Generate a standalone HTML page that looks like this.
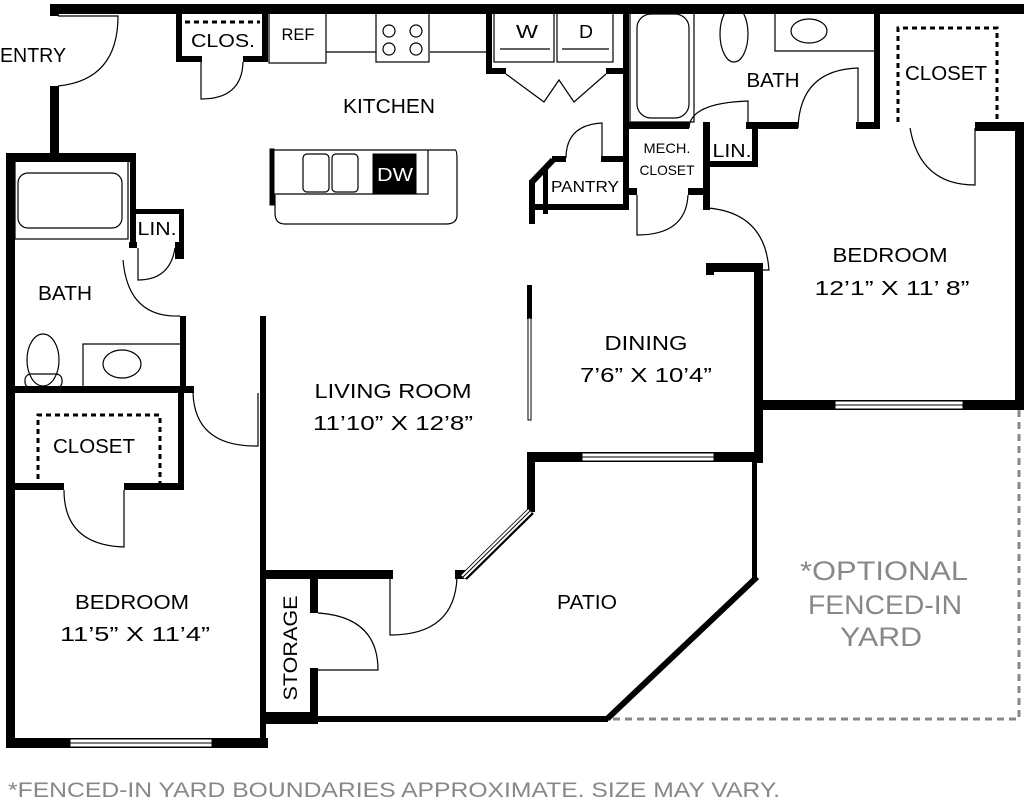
<!DOCTYPE html>
<html><head><meta charset="utf-8"><style>html,body{margin:0;padding:0;background:#fff}svg{display:block}</style></head>
<body>
<svg width="1024" height="808" viewBox="0 0 1024 808" xmlns="http://www.w3.org/2000/svg" font-family="'Liberation Sans', sans-serif">
<rect width="1024" height="808" fill="#fff"/>
<g fill="#000">
<rect x="50" y="4" width="974" height="10"/>
<rect x="50" y="4" width="9" height="12"/>
<rect x="50" y="86" width="9" height="72"/>
<rect x="6" y="153" width="130" height="9"/>
<rect x="6" y="153" width="9" height="593"/>
<rect x="130" y="153" width="6" height="95"/>
<rect x="130" y="209" width="54" height="5"/>
<rect x="179" y="209" width="5" height="50"/>
<rect x="129" y="242" width="8" height="6"/>
<rect x="175" y="242" width="8" height="17"/>
<rect x="180" y="316" width="6" height="75"/>
<rect x="6" y="386" width="188" height="7"/>
<rect x="178" y="388" width="6" height="100"/>
<rect x="6" y="483" width="58" height="7"/>
<rect x="124" y="483" width="60" height="7"/>
<rect x="260" y="316" width="6" height="432"/>
<rect x="6" y="738" width="262" height="10"/>
<rect x="263" y="570" width="130" height="9"/>
<rect x="310" y="575" width="8" height="38"/>
<rect x="310" y="668" width="8" height="55"/>
<rect x="263" y="712" width="55" height="12"/>
<rect x="263" y="716" width="345" height="6"/>
<rect x="176" y="10" width="6" height="52"/>
<rect x="176" y="56" width="26" height="6"/>
<rect x="243" y="56" width="24" height="6"/>
<rect x="262" y="10" width="6" height="52"/>
<rect x="486" y="10" width="6" height="62"/>
<rect x="486" y="68" width="20" height="6"/>
<rect x="606" y="68" width="22" height="6"/>
<rect x="623" y="10" width="6" height="198"/>
<!-- pantry -->
<rect x="552" y="156" width="14" height="6"/>
<rect x="601" y="156" width="25" height="6"/>
<rect x="529" y="180" width="6" height="44"/>
<rect x="543" y="167" width="5" height="47"/>
<rect x="529" y="204" width="100" height="6"/>
<!-- mech/bath -->
<rect x="623" y="122" width="66" height="7"/>
<rect x="746" y="122" width="52" height="7"/>
<rect x="856" y="122" width="24" height="7"/>
<rect x="874" y="8" width="6" height="120"/>
<rect x="975" y="122" width="49" height="9"/>
<rect x="623" y="188" width="14" height="7"/>
<rect x="688" y="188" width="20" height="7"/>
<rect x="703" y="122" width="7" height="88"/>
<rect x="703" y="161" width="54" height="6"/>
<rect x="752" y="122" width="6" height="45"/>
<rect x="1015" y="128" width="9" height="282"/>
<rect x="706" y="263" width="56" height="9"/>
<rect x="706" y="263" width="8" height="12"/>
<rect x="754" y="263" width="9" height="200"/>
<rect x="754" y="400" width="270" height="10"/>
<rect x="527" y="285" width="5" height="34"/>
<rect x="527" y="452" width="236" height="10"/>
<rect x="527" y="452" width="8" height="60"/>
<rect x="752" y="455" width="5" height="124"/>
<rect x="455" y="570" width="12" height="9"/>
</g>
<g fill="#fff" stroke="#000" stroke-width="1">
<rect x="70" y="739" width="142" height="8"/><line x1="70" y1="743" x2="212" y2="743"/>
<rect x="582" y="453" width="132" height="8"/><line x1="582" y1="457" x2="714" y2="457"/>
<rect x="835" y="401" width="128" height="8"/><line x1="835" y1="405" x2="963" y2="405"/>
<rect x="528" y="318" width="3" height="102"/>
</g>
<g fill="none" stroke="#000">
<path d="M531 511 L464 577" stroke-width="8"/>
<path d="M530 511 L463 577" stroke="#fff" stroke-width="5"/>
<path d="M530 511 L463 577" stroke-width="1"/>
<path d="M607 719 L757 577" stroke-width="6"/>
<path d="M532 182 L553 160" stroke-width="6"/>
<path d="M1019 410 V719 H612" stroke="#888" stroke-width="3" stroke-dasharray="7,5"/>
<g stroke-width="1.2">
<path d="M58 86 Q118 80 118 16 L58 16"/>
<path d="M201 62 V99 Q242 99 243 62"/>
<path d="M138 248 V280 Q170 280 175 248"/>
<path d="M123 260 Q128 318 180 316"/>
<path d="M258 393 V446 Q195 447 193 393"/>
<path d="M64 490 Q64 545 124 547 V490"/>
<path d="M390 579 V635 Q455 635 457 577"/>
<path d="M318 613 Q378 617 378 670 H318"/>
<path d="M506 74 L544 102 L559 80 L574 102 L606 74"/>
<path d="M602 158 V123 Q566 125 566 158"/>
<path d="M637 195 V235 Q686 235 688 195"/>
<path d="M748 128 V101 Q690 103 689 128"/>
<path d="M858 128 V68 Q800 70 798 128"/>
<path d="M910 128 Q920 185 975 185 V128"/>
<path d="M708 208 Q765 213 769 270 H762"/>
</g>
<g stroke-width="1.2">
<rect x="269" y="10" width="57" height="53"/>
<path d="M326 52 H376 M430 52 H486"/>
<rect x="376" y="12" width="53" height="50"/>
<circle cx="389" cy="31" r="6"/><circle cx="416" cy="31" r="6"/><circle cx="389" cy="49" r="6"/><circle cx="416" cy="49" r="6"/>
<rect x="494" y="12" width="60" height="50"/><rect x="557" y="12" width="56" height="50"/>
<path d="M500 49 H550 M562 49 H609"/>
<rect x="630" y="10" width="64" height="112"/>
<rect x="637" y="14" width="52" height="104" rx="14"/>
<ellipse cx="734" cy="34" rx="14" ry="28"/>
<path d="M775 10 V51 H874"/>
<ellipse cx="809" cy="31" rx="18" ry="12"/>
<rect x="15" y="161" width="113" height="78"/>
<rect x="18" y="173" width="104" height="55" rx="10"/>
<ellipse cx="43" cy="360" rx="16" ry="26"/>
<rect x="25" y="374" width="37" height="14" rx="6"/>
<path d="M83 390 V344 H180"/>
<ellipse cx="122" cy="364" rx="19" ry="14"/>
<path d="M273 150 H455 Q457 150 457 160 V215 Q457 224 446 224 H285 Q275 224 275 213 V195"/>
<path d="M272 194 H428 V150"/>
<rect x="303" y="154" width="26" height="38" rx="4"/><rect x="332" y="154" width="26" height="38" rx="4"/>
</g>
<rect x="270" y="149" width="4" height="56" fill="#000"/>
<rect x="373" y="154" width="43" height="39" fill="#000"/>
<g stroke-width="3" stroke-dasharray="5,4">
<path d="M185 22 H260"/>
<path d="M898 122 V28 H997 V122"/>
<path d="M38 488 V415 H160 V488"/>
</g>
</g>
<g fill="#000" font-size="20" text-anchor="middle" lengthAdjust="spacingAndGlyphs">
<text x="33" y="62" textLength="66" lengthAdjust="spacingAndGlyphs">ENTRY</text>
<text x="223" y="47" font-size="18" textLength="64" lengthAdjust="spacingAndGlyphs">CLOS.</text>
<text x="298" y="40" font-size="17" textLength="33" lengthAdjust="spacingAndGlyphs">REF</text>
<text x="389" y="113" textLength="92" lengthAdjust="spacingAndGlyphs">KITCHEN</text>
<text x="395" y="181" font-size="18" fill="#fff" textLength="36" lengthAdjust="spacingAndGlyphs">DW</text>
<text x="65" y="300" textLength="54" lengthAdjust="spacingAndGlyphs">BATH</text>
<text x="157" y="235" font-size="18" textLength="39" lengthAdjust="spacingAndGlyphs">LIN.</text>
<text x="94" y="453" textLength="82" lengthAdjust="spacingAndGlyphs">CLOSET</text>
<text x="132" y="609" textLength="114" lengthAdjust="spacingAndGlyphs">BEDROOM</text>
<text x="135" y="641" textLength="150" lengthAdjust="spacingAndGlyphs">11’5” X 11’4”</text>
<text x="393" y="398" textLength="157" lengthAdjust="spacingAndGlyphs">LIVING ROOM</text>
<text x="393" y="430" textLength="160" lengthAdjust="spacingAndGlyphs">11’10” X 12’8”</text>
<text x="646" y="350" textLength="83" lengthAdjust="spacingAndGlyphs">DINING</text>
<text x="646" y="382" textLength="132" lengthAdjust="spacingAndGlyphs">7’6” X 10’4”</text>
<text x="587" y="609" textLength="60" lengthAdjust="spacingAndGlyphs">PATIO</text>
<text x="890" y="262" textLength="115" lengthAdjust="spacingAndGlyphs">BEDROOM</text>
<text x="892" y="295" textLength="155" lengthAdjust="spacingAndGlyphs">12’1” X 11’ 8”</text>
<text x="773" y="87" textLength="53" lengthAdjust="spacingAndGlyphs">BATH</text>
<text x="946" y="80" textLength="82" lengthAdjust="spacingAndGlyphs">CLOSET</text>
<text x="527" y="38" font-size="18" textLength="22" lengthAdjust="spacingAndGlyphs">W</text>
<text x="586" y="38" font-size="18" textLength="14" lengthAdjust="spacingAndGlyphs">D</text>
<text x="585" y="192" font-size="16" textLength="68" lengthAdjust="spacingAndGlyphs">PANTRY</text>
<text x="667" y="153" font-size="14" textLength="47" lengthAdjust="spacingAndGlyphs">MECH.</text>
<text x="667" y="175" font-size="14" textLength="55" lengthAdjust="spacingAndGlyphs">CLOSET</text>
<text x="732" y="157" font-size="18" textLength="39" lengthAdjust="spacingAndGlyphs">LIN.</text>
<text transform="translate(297,648) rotate(-90)" font-size="19" textLength="105" lengthAdjust="spacingAndGlyphs">STORAGE</text>
</g>
<g fill="#888" font-size="27" text-anchor="middle">
<text x="884" y="580" textLength="168" lengthAdjust="spacingAndGlyphs">*OPTIONAL</text>
<text x="885" y="614" textLength="154" lengthAdjust="spacingAndGlyphs">FENCED-IN</text>
<text x="881" y="646" textLength="82" lengthAdjust="spacingAndGlyphs">YARD</text>
<text x="394" y="797" font-size="21" textLength="772" lengthAdjust="spacingAndGlyphs">*FENCED-IN YARD BOUNDARIES APPROXIMATE. SIZE MAY VARY.</text>
</g>
</svg>
</body></html>
